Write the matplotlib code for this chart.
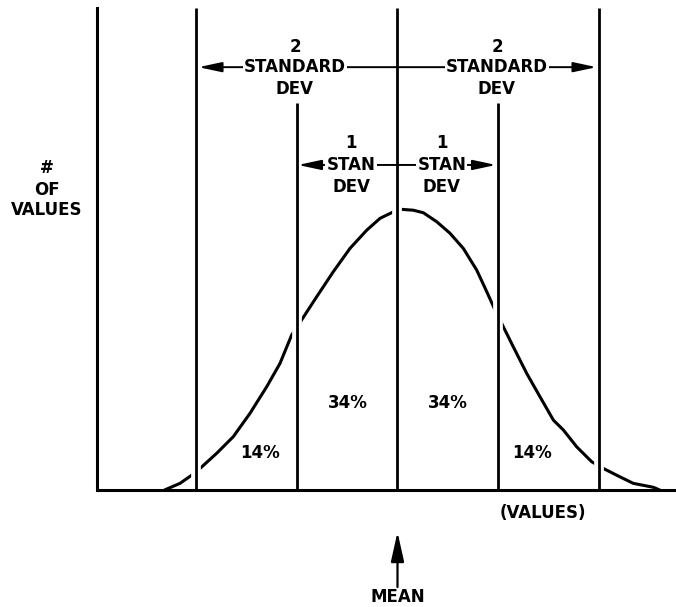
import matplotlib

matplotlib.use("Agg")
import matplotlib.pyplot as plt
import matplotlib.patheffects as pe

# bell curve: x in standard deviations from the mean,
# y as a fraction of the peak height
curve_x = [-2.32, -2.164, -2.032, -1.965, -1.799, -1.634, -1.468, -1.301, -1.169,
           -1.053, -0.977, -0.804, -0.639, -0.473, -0.306, -0.174, -0.042, 0.0,
           0.042, 0.157, 0.257, 0.390, 0.522, 0.655, 0.788, 0.888, 0.970,
           1.020, 1.152, 1.286, 1.418, 1.551, 1.650, 1.783, 1.932, 2.048,
           2.214, 2.346, 2.545, 2.612]
curve_y = [0.0, 0.024, 0.057, 0.077, 0.131, 0.190, 0.273, 0.368, 0.451,
           0.552, 0.593, 0.688, 0.777, 0.860, 0.925, 0.967, 0.990, 0.998,
           0.999, 0.996, 0.987, 0.955, 0.914, 0.860, 0.783, 0.706, 0.641,
           0.605, 0.510, 0.415, 0.332, 0.249, 0.214, 0.154, 0.101, 0.077,
           0.047, 0.024, 0.010, 0.0]

sd_marks = [-2, -1, 0, 1, 2]
area_labels = ["14%", "34%", "34%", "14%"]
area_label_x = [-1.37, -0.49, 0.50, 1.34]
area_label_y = [0.132, 0.310, 0.310, 0.132]

FONT = dict(family="DejaVu Sans", fontweight="bold", fontsize=12, color="black")


def sd_arrow(ax, x0, x1, y):
    ax.annotate(
        "", xy=(x1, y), xytext=(x0, y),
        arrowprops=dict(arrowstyle="<|-|>,head_length=1.4,head_width=0.3",
                        lw=1.4, color="black", shrinkA=0, shrinkB=0,
                        mutation_scale=10),
        zorder=5,
    )


def sd_block(ax, x, y_top, y_mid, y_bot, top, mid):
    ax.text(x, y_top, top, ha="center", va="center", zorder=6, **FONT)
    ax.text(x, y_mid, mid, ha="center", va="center", zorder=6,
            bbox=dict(fc="white", ec="none", pad=1.0), **FONT)
    ax.text(x, y_bot, "DEV", ha="center", va="center", zorder=6, **FONT)


def main() -> None:
    fig = plt.figure(figsize=(6.76, 6.07), dpi=100)
    ax = fig.add_axes([0, 0, 1, 1])
    ax.set_xlim(-3.955, 2.771)
    ax.set_ylim(-0.416, 1.744)
    ax.axis("off")

    # curve sits under the vertical lines; the white halo on the lines cuts it
    ax.plot(curve_x, curve_y, color="black", lw=2.2, zorder=2,
            solid_capstyle="butt", solid_joinstyle="round")

    halo = [pe.Stroke(linewidth=7, foreground="white"), pe.Normal()]
    for s in sd_marks:
        top = 1.377 if abs(s) == 1 else 1.715
        ax.plot([s, s], [0, top], color="black", lw=2.0, zorder=3,
                solid_capstyle="butt", path_effects=halo)

    # axes
    ax.plot([-2.99, -2.99], [0, 1.715], color="black", lw=2.2, zorder=4)
    ax.plot([-2.99, 2.771], [0, 0], color="black", lw=2.2, zorder=4,
            solid_capstyle="butt")

    # standard deviation arrows and labels
    sd_arrow(ax, -1.98, 1.98, 1.505)
    sd_arrow(ax, -0.99, 0.98, 1.157)
    sd_block(ax, -1.02, 1.577, 1.505, 1.427, "2", "STANDARD")
    sd_block(ax, 0.99, 1.577, 1.505, 1.427, "2", "STANDARD")
    sd_block(ax, -0.46, 1.235, 1.157, 1.078, "1", "STAN")
    sd_block(ax, 0.44, 1.235, 1.157, 1.078, "1", "STAN")

    for lab, x, y in zip(area_labels, area_label_x, area_label_y):
        ax.text(x, y, lab, ha="center", va="center", **FONT)

    ax.text(-3.49, 1.146, "#", ha="center", va="center", **FONT)
    ax.text(-3.49, 1.068, "OF", ha="center", va="center", **FONT)
    ax.text(-3.49, 0.996, "VALUES", ha="center", va="center", **FONT)

    ax.text(1.45, -0.082, "(VALUES)", ha="center", va="center", **FONT)

    ax.annotate(
        "", xy=(0, -0.149), xytext=(0, -0.345),
        arrowprops=dict(arrowstyle="-|>,head_length=1.8,head_width=0.4",
                        lw=1.6, color="black", shrinkA=0, shrinkB=0,
                        mutation_scale=10),
    )
    ax.text(0, -0.381, "MEAN", ha="center", va="center", **FONT)

    fig.savefig("out.png", dpi=100, facecolor="white")
    plt.close(fig)


if __name__ == "__main__":
    main()
